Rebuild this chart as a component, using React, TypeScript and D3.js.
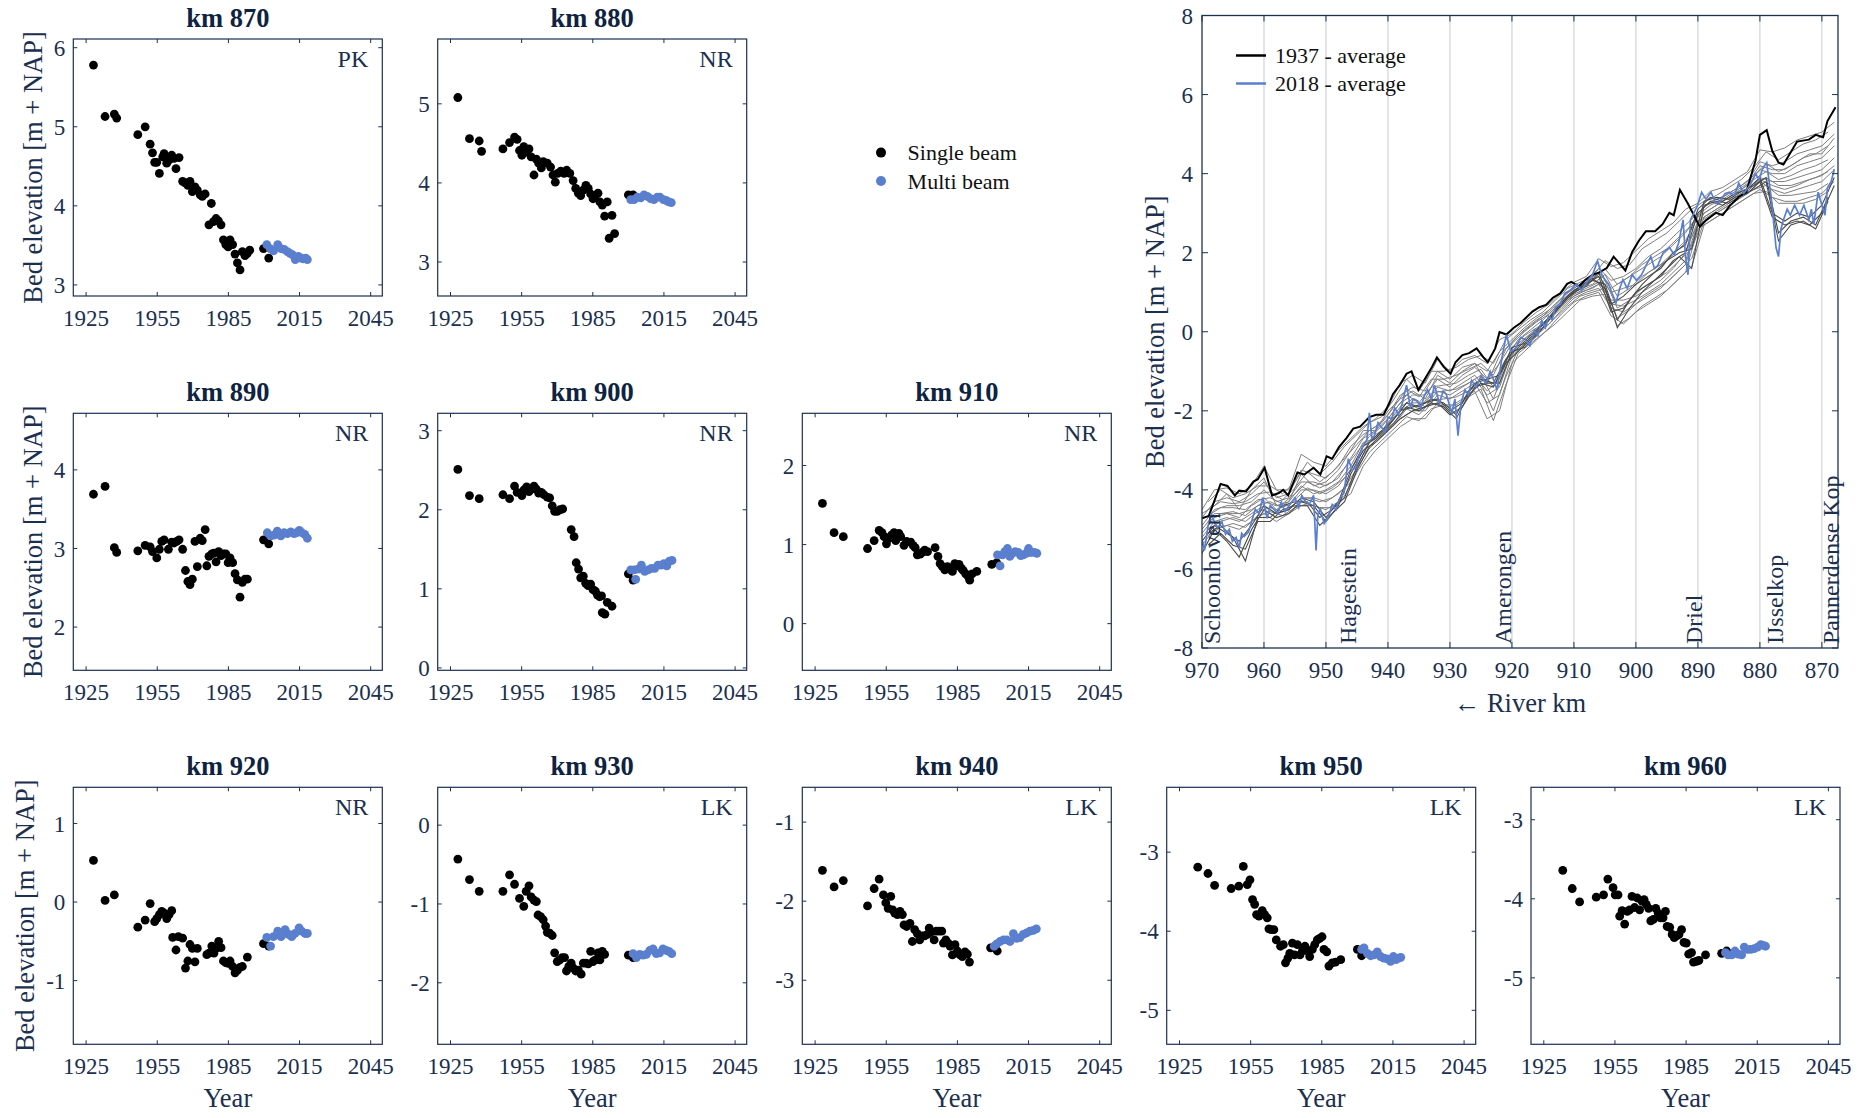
import React from "react";
import * as d3 from "d3";

const FONT = "'Liberation Serif', 'Times New Roman', Times, serif";
const AXIS = "#1c3050";
const TEXT = "#1b2f4f";
const TITLE = "#0e2341";
const BLUE = "#5b7fcf";

type Pt = [number, number];

// ---------- Bed elevation per survey year at selected river km ----------
const km870Single: Pt[] = [
  [1928.1, 5.78], [1933.0, 5.13], [1936.9, 5.16], [1937.9, 5.11], [1946.8, 4.9], [1949.9, 5.0],
  [1952.0, 4.78], [1953.0, 4.67], [1953.9, 4.55], [1954.8, 4.55], [1955.9, 4.41], [1957.3, 4.62],
  [1957.9, 4.66], [1959.0, 4.54], [1960.0, 4.58], [1961.1, 4.64], [1962.1, 4.6], [1962.9, 4.47],
  [1964.2, 4.61], [1965.7, 4.31], [1966.7, 4.29], [1967.9, 4.26], [1968.8, 4.31], [1969.8, 4.18],
  [1970.9, 4.24], [1971.9, 4.2], [1973.1, 4.14], [1974.0, 4.12], [1975.2, 4.15], [1977.8, 4.03],
  [1976.8, 3.76], [1978.7, 3.8], [1979.8, 3.84], [1980.8, 3.81], [1981.9, 3.76], [1982.9, 3.57],
  [1983.9, 3.51], [1984.9, 3.48], [1985.7, 3.57], [1986.8, 3.51], [1987.8, 3.39], [1988.8, 3.28],
  [1989.9, 3.19], [1990.9, 3.42], [1992.0, 3.37], [1993.0, 3.4], [1994.0, 3.44], [1999.8, 3.46],
  [2002.0, 3.34],
];
const km870Multi: Pt[] = [
  [2001.2, 3.51], [2002.6, 3.46], [2004.0, 3.43], [2005.8, 3.51], [2007.2, 3.46], [2008.5, 3.45],
  [2009.9, 3.42], [2011.0, 3.4], [2012.1, 3.38], [2013.2, 3.32], [2014.5, 3.36], [2015.6, 3.34],
  [2016.6, 3.33], [2017.6, 3.34], [2018.3, 3.32],
];

const km880Single: Pt[] = [
  [1928.1, 5.08], [1933.0, 4.56], [1937.1, 4.53], [1938.1, 4.4], [1947.1, 4.43], [1949.9, 4.51],
  [1952.0, 4.58], [1953.1, 4.55], [1954.1, 4.41], [1955.1, 4.35], [1955.9, 4.46], [1957.1, 4.39],
  [1958.1, 4.43], [1959.0, 4.33], [1960.2, 4.1], [1961.2, 4.3], [1962.2, 4.25], [1963.3, 4.19],
  [1964.1, 4.27], [1965.8, 4.25], [1967.2, 4.2], [1968.2, 4.1], [1969.2, 4.01], [1970.2, 4.12],
  [1971.5, 4.15], [1972.9, 4.12], [1974.0, 4.16], [1975.3, 4.12], [1976.7, 4.03], [1977.8, 3.93],
  [1978.9, 3.87], [1979.9, 3.84], [1981.0, 3.91], [1982.1, 3.97], [1983.1, 3.93], [1984.1, 3.86],
  [1985.1, 3.8], [1986.1, 3.84], [1987.2, 3.87], [1988.0, 3.76], [1989.0, 3.72], [1990.0, 3.58],
  [1991.1, 3.76], [1991.9, 3.3], [1993.1, 3.59], [1994.2, 3.36], [2000.0, 3.85], [2002.0, 3.85],
];
const km880Multi: Pt[] = [
  [2001.0, 3.79], [2002.4, 3.79], [2003.8, 3.82], [2005.2, 3.81], [2006.6, 3.85], [2008.0, 3.83],
  [2009.4, 3.8], [2010.8, 3.79], [2012.2, 3.82], [2013.3, 3.82], [2014.8, 3.79], [2015.9, 3.78],
  [2017.0, 3.76], [2018.1, 3.75],
];

const km890Single: Pt[] = [
  [1928.1, 3.69], [1933.0, 3.79], [1936.9, 3.01], [1937.9, 2.95], [1946.8, 2.97], [1949.9, 3.04],
  [1952.0, 3.02], [1953.0, 2.96], [1954.8, 2.88], [1955.9, 2.99], [1956.9, 3.09], [1957.9, 3.11],
  [1959.7, 2.99], [1961.1, 3.08], [1962.1, 3.07], [1963.2, 3.09], [1964.2, 3.11], [1965.7, 2.99],
  [1966.9, 2.72], [1967.9, 2.58], [1968.8, 2.54], [1969.8, 2.61], [1970.9, 3.09], [1971.9, 2.77],
  [1973.1, 3.13], [1974.0, 3.1], [1975.2, 3.24], [1975.9, 2.78], [1976.8, 2.9], [1978.0, 2.93],
  [1978.9, 2.94], [1979.8, 2.83], [1980.9, 2.96], [1981.9, 2.91], [1982.9, 2.93], [1983.9, 2.93],
  [1984.9, 2.82], [1985.7, 2.88], [1986.8, 2.82], [1987.8, 2.68], [1988.8, 2.6], [1989.9, 2.38],
  [1990.9, 2.57], [1992.0, 2.61], [1993.0, 2.61], [1999.8, 3.11], [2002.0, 3.06],
];
const km890Multi: Pt[] = [
  [2001.4, 3.2], [2002.8, 3.16], [2004.2, 3.17], [2005.6, 3.22], [2007.1, 3.16], [2008.5, 3.2],
  [2009.9, 3.19], [2011.3, 3.21], [2012.7, 3.19], [2013.8, 3.2], [2014.9, 3.23], [2016.0, 3.2],
  [2017.2, 3.18], [2018.3, 3.13],
];

const km900Single: Pt[] = [
  [1928.1, 2.51], [1933.0, 2.18], [1937.1, 2.14], [1947.1, 2.19], [1949.9, 2.14], [1952.0, 2.3],
  [1953.1, 2.22], [1955.1, 2.18], [1955.9, 2.25], [1957.1, 2.29], [1958.1, 2.23], [1959.0, 2.26],
  [1960.2, 2.3], [1961.2, 2.26], [1962.2, 2.21], [1963.3, 2.22], [1964.4, 2.19], [1965.8, 2.16],
  [1966.8, 2.15], [1967.9, 2.05], [1968.9, 1.98], [1970.0, 1.98], [1971.1, 2.0], [1972.3, 2.01],
  [1975.9, 1.75], [1977.1, 1.66], [1978.0, 1.33], [1979.0, 1.25], [1979.9, 1.14], [1981.0, 1.16],
  [1982.0, 1.07], [1983.0, 1.04], [1984.1, 1.06], [1985.1, 0.99], [1986.1, 0.97], [1987.0, 0.92],
  [1987.9, 0.9], [1988.7, 0.91], [1989.0, 0.7], [1990.1, 0.68], [1991.1, 0.83], [1993.1, 0.78],
  [2000.0, 1.19], [2002.0, 1.11],
];
const km900Multi: Pt[] = [
  [2001.0, 1.24], [2002.4, 1.24], [2003.1, 1.12], [2004.1, 1.25], [2005.5, 1.3], [2006.9, 1.22],
  [2008.3, 1.24], [2009.7, 1.26], [2011.1, 1.26], [2012.5, 1.3], [2013.9, 1.3], [2015.0, 1.32],
  [2016.2, 1.29], [2017.3, 1.35], [2018.4, 1.36],
];

const km910Single: Pt[] = [
  [1928.1, 1.52], [1933.0, 1.15], [1936.9, 1.1], [1947.1, 0.95], [1949.9, 1.05], [1952.0, 1.18],
  [1953.2, 1.15], [1954.1, 1.1], [1955.1, 1.01], [1956.2, 1.08], [1957.2, 1.12], [1958.3, 1.15],
  [1959.0, 1.05], [1960.4, 1.14], [1961.1, 1.1], [1962.5, 0.99], [1963.6, 1.04], [1965.3, 1.03],
  [1966.3, 0.99], [1967.2, 0.96], [1968.1, 0.87], [1969.3, 0.88], [1970.2, 0.9], [1971.2, 0.93],
  [1972.4, 0.91], [1975.6, 0.96], [1976.8, 0.85], [1977.7, 0.76], [1978.7, 0.72], [1979.7, 0.68],
  [1980.8, 0.72], [1981.8, 0.69], [1982.9, 0.66], [1983.9, 0.76], [1984.8, 0.73], [1985.7, 0.75],
  [1986.7, 0.7], [1987.5, 0.67], [1988.5, 0.63], [1989.5, 0.6], [1990.2, 0.55], [1991.2, 0.63],
  [1993.2, 0.66], [1999.5, 0.75], [2001.6, 0.77],
];
const km910Multi: Pt[] = [
  [2001.9, 0.87], [2003.0, 0.73], [2004.0, 0.87], [2005.0, 0.91], [2006.1, 0.95], [2007.1, 0.85],
  [2008.2, 0.89], [2009.4, 0.91], [2010.6, 0.9], [2011.7, 0.86], [2012.8, 0.87], [2014.0, 0.89],
  [2015.0, 0.95], [2016.0, 0.9], [2017.4, 0.9], [2018.5, 0.89],
];

const km920Single: Pt[] = [
  [1928.1, 0.53], [1933.0, 0.02], [1936.9, 0.09], [1946.8, -0.32], [1949.9, -0.23], [1952.0, -0.02],
  [1953.9, -0.25], [1954.8, -0.21], [1955.9, -0.16], [1956.9, -0.12], [1957.9, -0.14], [1959.0, -0.21],
  [1960.0, -0.16], [1961.1, -0.11], [1961.5, -0.45], [1962.9, -0.61], [1963.9, -0.44], [1965.7, -0.46],
  [1966.9, -0.84], [1967.9, -0.75], [1968.8, -0.54], [1969.8, -0.59], [1970.9, -0.76], [1971.9, -0.59],
  [1975.9, -0.67], [1976.8, -0.65], [1978.0, -0.56], [1978.9, -0.65], [1979.8, -0.59], [1980.9, -0.5],
  [1981.9, -0.58], [1982.9, -0.75], [1983.9, -0.77], [1984.9, -0.78], [1985.7, -0.75], [1986.8, -0.82],
  [1987.8, -0.9], [1988.8, -0.87], [1989.9, -0.83], [1990.9, -0.82], [1993.0, -0.7], [1999.8, -0.53],
  [2002.0, -0.56],
];
const km920Multi: Pt[] = [
  [2001.2, -0.45], [2002.8, -0.56], [2004.0, -0.44], [2005.8, -0.37], [2007.2, -0.44], [2008.9, -0.35],
  [2010.3, -0.41], [2011.7, -0.44], [2013.1, -0.4], [2014.8, -0.33], [2015.9, -0.37], [2017.3, -0.4],
  [2018.3, -0.4],
];

const km930Single: Pt[] = [
  [1928.1, -0.43], [1933.0, -0.69], [1937.1, -0.84], [1947.1, -0.84], [1949.9, -0.63], [1952.0, -0.75],
  [1954.1, -0.93], [1955.9, -1.03], [1956.9, -0.84], [1958.1, -0.77], [1959.0, -0.91], [1960.2, -0.95],
  [1961.2, -0.97], [1961.9, -1.14], [1963.0, -1.16], [1964.1, -1.2], [1965.1, -1.28], [1965.8, -1.36],
  [1966.8, -1.37], [1967.9, -1.4], [1968.9, -1.62], [1970.0, -1.73], [1971.1, -1.71], [1972.1, -1.68],
  [1973.1, -1.68], [1973.9, -1.85], [1974.9, -1.79], [1975.9, -1.75], [1976.7, -1.81], [1977.8, -1.85],
  [1978.9, -1.84], [1980.1, -1.89], [1981.0, -1.75], [1982.1, -1.75], [1983.1, -1.76], [1984.1, -1.6],
  [1985.1, -1.73], [1986.1, -1.71], [1987.2, -1.62], [1988.0, -1.71], [1989.0, -1.6], [1990.0, -1.64],
  [2000.0, -1.65], [2002.0, -1.68],
];
const km930Multi: Pt[] = [
  [2002.0, -1.63], [2003.4, -1.68], [2004.8, -1.64], [2006.2, -1.65], [2007.6, -1.64], [2009.0, -1.59],
  [2010.4, -1.57], [2011.8, -1.63], [2013.2, -1.62], [2014.6, -1.57], [2016.0, -1.59], [2017.1, -1.6],
  [2018.3, -1.63],
];

const km940Single: Pt[] = [
  [1928.1, -1.61], [1933.0, -1.82], [1936.9, -1.74], [1947.1, -2.06], [1949.9, -1.84], [1952.0, -1.72],
  [1953.8, -1.92], [1954.8, -2.02], [1955.8, -2.09], [1956.9, -1.94], [1957.7, -2.11], [1958.6, -2.15],
  [1959.7, -2.17], [1960.8, -2.13], [1961.8, -2.17], [1962.5, -2.3], [1963.6, -2.32], [1965.0, -2.28],
  [1966.0, -2.51], [1967.0, -2.36], [1968.1, -2.41], [1969.1, -2.49], [1970.2, -2.44], [1971.2, -2.44],
  [1972.4, -2.42], [1973.1, -2.34], [1974.0, -2.39], [1975.2, -2.49], [1976.1, -2.38], [1977.3, -2.38],
  [1978.4, -2.38], [1979.1, -2.53], [1980.1, -2.49], [1981.1, -2.53], [1981.9, -2.57], [1982.9, -2.68],
  [1984.0, -2.55], [1985.0, -2.63], [1986.1, -2.68], [1987.1, -2.7], [1988.2, -2.64], [1989.2, -2.67],
  [1990.1, -2.77], [1999.0, -2.59], [2001.8, -2.63],
];
const km940Multi: Pt[] = [
  [2000.5, -2.57], [2001.6, -2.54], [2003.0, -2.51], [2004.4, -2.49], [2005.8, -2.49], [2007.2, -2.51],
  [2008.6, -2.41], [2010.0, -2.47], [2011.4, -2.46], [2012.8, -2.42], [2014.2, -2.4], [2015.6, -2.38],
  [2017.0, -2.37], [2018.3, -2.35],
];

const km950Single: Pt[] = [
  [1932.7, -3.19], [1937.0, -3.27], [1939.8, -3.42], [1946.8, -3.46], [1950.0, -3.43], [1951.9, -3.18],
  [1953.6, -3.41], [1954.7, -3.35], [1955.8, -3.6], [1956.7, -3.66], [1957.5, -3.79], [1958.5, -3.81],
  [1959.9, -3.74], [1960.9, -3.79], [1962.0, -3.83], [1962.7, -3.97], [1963.7, -3.98], [1964.8, -3.98],
  [1965.8, -4.11], [1967.6, -4.19], [1968.8, -4.17], [1969.7, -4.4], [1970.7, -4.34], [1971.5, -4.28],
  [1972.6, -4.15], [1973.5, -4.3], [1974.7, -4.17], [1975.8, -4.3], [1976.8, -4.25], [1977.9, -4.19],
  [1978.9, -4.25], [1979.9, -4.32], [1981.0, -4.23], [1982.0, -4.17], [1983.1, -4.11], [1984.1, -4.09],
  [1985.1, -4.07], [1985.9, -4.23], [1987.1, -4.26], [1988.0, -4.44], [1989.4, -4.4], [1990.8, -4.39],
  [1993.0, -4.36], [2000.0, -4.23], [2001.8, -4.31],
];
const km950Multi: Pt[] = [
  [2001.8, -4.23], [2002.8, -4.21], [2004.2, -4.28], [2005.6, -4.31], [2007.0, -4.3], [2008.4, -4.26],
  [2009.8, -4.32], [2011.2, -4.34], [2012.6, -4.35], [2014.0, -4.38], [2015.2, -4.32], [2016.3, -4.36],
  [2017.4, -4.34], [2018.3, -4.33],
];

const km960Single: Pt[] = [
  [1933.0, -3.64], [1937.0, -3.87], [1940.1, -4.04], [1947.1, -3.98], [1950.2, -3.95], [1952.0, -3.75],
  [1954.2, -3.86], [1955.1, -3.95], [1956.3, -3.95], [1957.0, -4.22], [1958.0, -4.15], [1959.1, -4.32],
  [1960.2, -4.16], [1961.2, -4.14], [1962.2, -3.97], [1963.3, -4.11], [1964.4, -3.99], [1965.4, -4.14],
  [1966.4, -4.03], [1967.3, -4.01], [1968.2, -4.07], [1969.2, -4.12], [1970.1, -4.28], [1971.2, -4.26],
  [1972.2, -4.12], [1973.2, -4.18], [1974.2, -4.24], [1975.3, -4.24], [1976.3, -4.16], [1977.0, -4.35],
  [1978.1, -4.36], [1979.1, -4.45], [1980.0, -4.49], [1981.0, -4.47], [1982.0, -4.45], [1983.1, -4.39],
  [1984.1, -4.55], [1985.1, -4.56], [1986.1, -4.7], [1987.3, -4.68], [1988.1, -4.8], [1989.4, -4.79],
  [1990.4, -4.78], [1993.2, -4.71], [2000.0, -4.69], [2002.1, -4.66],
];
const km960Multi: Pt[] = [
  [2001.6, -4.68], [2002.7, -4.71], [2004.2, -4.71], [2005.6, -4.66], [2007.0, -4.7], [2008.4, -4.71],
  [2009.5, -4.61], [2010.9, -4.64], [2012.3, -4.64], [2013.7, -4.63], [2015.1, -4.61], [2016.5, -4.58],
  [2017.5, -4.59], [2018.5, -4.6],
];

// ---------- Longitudinal bed profiles ----------
const profile1937: Pt[] = [
  [970.0, -4.72], [968.9, -4.66], [967.0, -3.85], [965.9, -3.9], [964.7, -4.14], [964.0, -4.02],
  [962.9, -4.04], [961.7, -3.79], [961.0, -3.73], [959.9, -3.44], [958.7, -4.14], [957.6, -4.08],
  [956.9, -4.0], [956.1, -4.14], [954.6, -3.56], [953.5, -3.61], [952.0, -3.44], [950.9, -3.61],
  [949.9, -3.15], [949.0, -3.21], [947.9, -2.92], [946.7, -2.69], [945.6, -2.45], [944.5, -2.4],
  [943.0, -2.16], [941.9, -2.1], [940.7, -2.1], [939.8, -1.81], [939.2, -1.58], [938.1, -1.35],
  [937.0, -1.06], [936.2, -1.0], [935.1, -1.47], [934.0, -1.18], [932.9, -0.89], [932.1, -0.65],
  [931.0, -0.89], [929.9, -1.06], [929.1, -0.77], [928.0, -0.59], [926.9, -0.54], [925.7, -0.42],
  [924.6, -0.65], [923.9, -0.77], [922.7, -0.42], [922.0, -0.01], [920.9, -0.07], [919.7, 0.1],
  [918.6, 0.22], [917.9, 0.33], [916.7, 0.51], [915.6, 0.62], [914.5, 0.68], [913.4, 0.86],
  [912.2, 0.97], [911.1, 1.21], [910.4, 1.26], [909.2, 1.15], [908.1, 1.32], [907.0, 1.44],
  [905.9, 1.5], [904.7, 1.61], [903.6, 1.9], [901.7, 1.55], [900.6, 2.02], [899.5, 2.31],
  [898.4, 2.54], [896.9, 2.54], [895.7, 2.72], [894.6, 3.01], [893.9, 2.95], [892.9, 3.59],
  [891.6, 3.24], [889.7, 2.66], [888.6, 2.83], [887.1, 3.01], [886.0, 2.95], [884.9, 3.18],
  [883.4, 3.41], [882.2, 3.53], [880.7, 4.34], [880.0, 4.98], [878.9, 5.1], [878.0, 4.57],
  [877.0, 4.28], [876.2, 4.23], [875.1, 4.52], [874.0, 4.81], [872.1, 4.86], [871.0, 4.98],
  [869.8, 4.92], [869.1, 5.33], [867.8, 5.68],
];

const profile2018: Pt[] = [
  [969.9, -5.3], [969.6, -5.53], [969.0, -4.9], [968.5, -4.6], [967.9, -4.85], [967.4, -4.95],
  [966.8, -4.8], [966.2, -5.12], [965.6, -5.0], [965.1, -5.3], [964.5, -5.2], [964.0, -5.47],
  [963.6, -5.1], [963.2, -5.18], [962.5, -5.07], [961.9, -4.75], [961.4, -4.49], [960.8, -4.6],
  [960.2, -4.2], [959.5, -4.72], [959.0, -4.4], [958.4, -4.49], [957.8, -4.6], [957.2, -4.31],
  [956.6, -4.55], [956.1, -4.43], [955.5, -4.3], [955.0, -4.2], [954.4, -4.45], [953.9, -4.14],
  [953.3, -4.3], [952.7, -4.37], [952.0, -4.14], [951.6, -5.53], [951.3, -4.6], [950.9, -4.49],
  [950.3, -4.85], [949.7, -4.72], [949.0, -4.37], [948.4, -4.5], [947.9, -4.25], [947.1, -4.08],
  [946.7, -3.6], [946.4, -3.21], [945.8, -3.5], [945.2, -3.44], [944.6, -3.1], [944.1, -2.92],
  [943.4, -2.74], [943.0, -2.05], [942.6, -2.7], [942.2, -2.63], [941.6, -2.3], [941.1, -2.4],
  [940.5, -2.55], [940.0, -2.16], [939.4, -2.2], [938.9, -1.93], [938.3, -2.1], [937.7, -1.81],
  [937.0, -1.35], [936.4, -1.9], [935.9, -1.7], [935.2, -1.75], [934.7, -1.93], [934.1, -1.6],
  [933.6, -1.47], [933.0, -1.7], [932.5, -1.35], [931.7, -1.81], [931.1, -1.5], [930.6, -1.58],
  [929.7, -2.05], [929.2, -1.7], [928.7, -2.63], [928.2, -1.8], [927.6, -1.47], [927.0, -1.6],
  [926.5, -1.23], [925.8, -1.4], [925.0, -1.12], [924.2, -1.3], [923.5, -1.0], [923.0, -1.2],
  [922.4, -1.47], [921.6, -0.65], [920.9, -0.07], [920.2, -0.5], [919.4, -0.42], [918.6, -0.15],
  [917.9, -0.19], [917.1, -0.35], [916.4, 0.04], [915.8, -0.1], [915.2, 0.28], [914.6, 0.1],
  [914.1, 0.39], [913.5, 0.3], [913.0, 0.62], [912.2, 0.7], [911.5, 0.97], [910.6, 1.05],
  [909.6, 1.21], [908.8, 1.05], [908.1, 1.21], [907.5, 1.35], [907.0, 1.44], [906.2, 1.79],
  [905.5, 1.44], [904.9, 1.3], [904.4, 1.21], [903.8, 0.95], [903.2, 0.74], [902.6, 1.1],
  [902.1, 1.32], [901.4, 1.1], [900.6, 1.44], [899.9, 1.3], [899.1, 1.44], [898.3, 1.7],
  [897.6, 1.9], [897.0, 1.6], [896.5, 1.67], [895.6, 2.0], [894.6, 2.13], [893.8, 1.95],
  [893.1, 2.25], [892.4, 2.83], [892.0, 1.9], [891.6, 1.44], [891.2, 2.83], [890.1, 3.18],
  [889.4, 3.53], [888.7, 3.35], [887.9, 3.53], [887.1, 3.25], [886.4, 3.3], [885.6, 3.5],
  [884.9, 3.53], [884.1, 3.45], [883.4, 3.76], [882.6, 3.5], [881.9, 3.64], [881.3, 3.8],
  [880.7, 3.99], [880.1, 3.85], [879.6, 4.11], [878.9, 4.28], [878.1, 3.3], [877.4, 2.13],
  [877.0, 1.9], [876.6, 2.6], [876.2, 2.83], [875.6, 3.1], [875.1, 2.95], [874.4, 3.2],
  [873.6, 2.95], [872.9, 3.2], [872.1, 2.83], [871.7, 3.1], [871.3, 2.72], [870.6, 3.53],
  [870.0, 3.2], [869.5, 2.95], [869.1, 3.64], [868.5, 3.8], [868.0, 4.11],
];

// Intermediate survey profiles, sampled every 2 km on two staggered station grids
const evenKm = d3.range(970, 867, -2); // 970 ... 868
const oddKm = d3.range(969, 868, -2); // 969 ... 869

const surveyEven: number[][] = [
  [-4.5, -4.0, -3.95, -4.1, -3.9, -3.4, -4.0, -4.0, -3.1, -3.3,
    -3.4, -3.0, -2.7, -2.4, -2.2, -1.9, -1.3, -1.1, -1.3, -0.7,
    -1.0, -0.7, -0.6, -0.8, -0.2, -0.05, 0.25, 0.5, 0.7, 1.0,
    1.25, 1.4, 1.85, 1.65, 1.75, 2.05, 2.35, 2.55, 2.75, 3.1,
    3.25, 3.55, 3.65, 3.85, 4.05, 4.6, 4.55, 4.65, 4.85, 4.95,
    5.05, 5.3],
  [-4.7, -4.3, -4.2, -4.3, -4.1, -3.8, -4.2, -4.1, -3.5, -3.6,
    -3.7, -3.4, -2.9, -2.6, -2.4, -2.1, -1.6, -1.4, -1.5, -1.0,
    -1.2, -0.9, -0.8, -1.0, -0.5, -0.2, 0.1, 0.35, 0.55, 0.85,
    1.1, 1.3, 1.6, 1.3, 1.4, 1.6, 1.9, 2.1, 2.4, 2.7,
    3.0, 3.3, 3.4, 3.6, 3.8, 4.3, 4.2, 4.3, 4.5, 4.6,
    4.7, 5.0],
  [-4.9, -4.5, -4.4, -4.4, -4.3, -4.0, -4.3, -4.2, -3.8, -3.8,
    -3.9, -3.7, -3.2, -2.7, -2.5, -2.2, -1.8, -1.6, -1.6, -1.2,
    -1.4, -1.1, -0.9, -1.2, -0.8, -0.3, 0.0, 0.25, 0.45, 0.75,
    1.0, 1.2, 1.4, 1.0, 1.1, 1.2, 1.5, 1.7, 2.0, 2.3,
    2.9, 3.1, 3.3, 3.5, 3.7, 4.1, 4.0, 4.0, 4.2, 4.3,
    4.4, 4.7],
  [-5.0, -4.6, -4.6, -4.6, -4.5, -4.3, -4.4, -4.4, -4.0, -4.0,
    -4.1, -3.9, -3.5, -2.9, -2.6, -2.4, -2.0, -1.8, -1.8, -1.4,
    -1.5, -1.3, -1.1, -1.5, -1.2, -0.4, -0.1, 0.1, 0.35, 0.65,
    0.95, 1.1, 1.25, 0.8, 0.8, 0.9, 1.1, 1.3, 1.6, 2.0,
    2.8, 3.0, 3.2, 3.4, 3.6, 3.9, 3.8, 3.8, 3.9, 4.0,
    4.1, 4.4],
  [-5.2, -4.8, -4.7, -4.8, -4.6, -4.4, -4.6, -4.5, -4.2, -4.2,
    -4.3, -4.1, -3.8, -3.1, -2.8, -2.5, -2.2, -2.0, -2.0, -1.6,
    -1.7, -1.5, -1.3, -1.8, -1.6, -0.6, -0.3, 0.0, 0.2, 0.55,
    0.85, 1.0, 1.1, 0.6, 0.5, 0.7, 0.9, 1.1, 1.4, 1.7,
    2.7, 2.9, 3.1, 3.3, 3.5, 3.8, 3.6, 3.5, 3.6, 3.7,
    3.8, 4.1],
  [-5.4, -5.0, -4.9, -5.0, -4.8, -4.6, -4.8, -4.6, -4.4, -4.4,
    -4.5, -4.3, -4.1, -3.4, -3.0, -2.7, -2.4, -2.2, -2.2, -1.8,
    -1.9, -1.7, -1.5, -2.2, -2.0, -0.8, -0.5, -0.2, 0.1, 0.45,
    0.75, 0.9, 1.0, 0.4, 0.2, 0.5, 0.7, 0.9, 1.2, 1.5,
    2.6, 2.8, 3.0, 3.2, 3.4, 3.6, 3.4, 3.3, 3.3, 3.4,
    3.5, 3.8],
  [-4.6, -4.4, -4.1, -4.5, -4.0, -3.7, -4.4, -4.3, -3.6, -3.9,
    -3.8, -3.5, -3.0, -2.5, -2.5, -2.0, -1.7, -1.5, -1.7, -1.1,
    -1.3, -1.0, -0.8, -1.3, -0.6, -0.25, 0.05, 0.3, 0.5, 0.8,
    1.05, 1.25, 1.5, 1.1, 1.3, 1.5, 1.7, 1.9, 2.2, 2.5,
    2.95, 3.2, 3.35, 3.55, 3.75, 4.2, 4.1, 4.1, 4.3, 4.5,
    4.5, 4.9],
  [-5.1, -4.7, -4.6, -4.7, -4.4, -4.2, -4.5, -4.3, -3.9, -4.1,
    -4.0, -3.8, -3.4, -2.8, -2.7, -2.3, -1.9, -1.7, -1.9, -1.5,
    -1.6, -1.4, -1.2, -1.6, -1.4, -0.5, -0.2, 0.05, 0.3, 0.6,
    0.9, 1.05, 1.2, 0.7, 0.65, 0.8, 1.0, 1.2, 1.5, 1.8,
    2.75, 2.95, 3.15, 3.35, 3.55, 3.85, 3.7, 3.6, 3.7, 3.85,
    3.95, 4.2],
];

const surveyOdd: number[][] = [
  [-4.3, -4.0, -4.2, -4.1, -3.9, -3.9, -4.1, -3.8, -3.3, -3.6,
    -3.3, -2.9, -2.6, -2.3, -2.15, -1.7, -1.2, -1.5, -1.0, -1.0,
    -0.9, -0.7, -0.6, -0.8, -0.2, 0.05, 0.3, 0.5, 0.8, 1.1,
    1.25, 1.4, 1.8, 1.6, 1.7, 2.1, 2.3, 2.5, 2.8, 3.1,
    3.3, 3.45, 3.65, 3.85, 4.15, 4.55, 4.35, 4.55, 4.75, 4.85,
    5.05],
  [-4.5, -4.3, -4.35, -4.3, -4.1, -4.05, -4.25, -3.95, -3.55, -3.8,
    -3.55, -3.2, -2.85, -2.5, -2.3, -1.9, -1.45, -1.65, -1.2, -1.2,
    -1.1, -0.95, -0.8, -1.1, -0.45, -0.1, 0.15, 0.4, 0.7, 1.0,
    1.2, 1.3, 1.6, 1.2, 1.4, 1.7, 1.9, 2.1, 2.4, 2.7,
    3.15, 3.35, 3.5, 3.7, 3.95, 4.25, 4.05, 4.2, 4.4, 4.5,
    4.7],
  [-4.65, -4.45, -4.45, -4.5, -4.25, -4.2, -4.35, -4.1, -3.8, -3.95,
    -3.8, -3.45, -3.05, -2.65, -2.4, -2.0, -1.6, -1.8, -1.4, -1.35,
    -1.3, -1.1, -0.95, -1.4, -0.7, -0.2, 0.05, 0.3, 0.6, 0.9,
    1.1, 1.2, 1.45, 0.9, 1.1, 1.4, 1.6, 1.8, 2.1, 2.4,
    3.0, 3.2, 3.4, 3.6, 3.85, 4.05, 3.85, 3.95, 4.1, 4.2,
    4.35],
  [-4.8, -4.6, -4.55, -4.65, -4.4, -4.3, -4.45, -4.25, -3.95, -4.1,
    -3.95, -3.7, -3.25, -2.8, -2.5, -2.15, -1.8, -1.95, -1.55, -1.5,
    -1.45, -1.3, -1.1, -1.7, -0.9, -0.3, -0.05, 0.2, 0.5, 0.8,
    1.0, 1.1, 1.3, 0.6, 0.8, 1.1, 1.3, 1.5, 1.8, 2.1,
    2.9, 3.1, 3.3, 3.5, 3.75, 3.9, 3.7, 3.7, 3.8, 3.9,
    4.05],
  [-5.0, -4.8, -4.7, -4.8, -4.55, -4.45, -4.55, -4.35, -4.2, -4.3,
    -4.2, -3.95, -3.45, -2.95, -2.65, -2.35, -1.95, -2.1, -1.75, -1.7,
    -1.65, -1.5, -1.3, -2.0, -1.15, -0.45, -0.2, 0.05, 0.35, 0.65,
    0.9, 1.0, 1.1, 0.35, 0.55, 0.85, 1.05, 1.25, 1.55, 1.85,
    2.8, 3.0, 3.2, 3.4, 3.6, 3.7, 3.45, 3.45, 3.5, 3.55,
    3.75],
  [-5.15, -4.95, -4.85, -4.95, -4.65, -4.55, -4.65, -4.45, -4.35, -4.45,
    -4.45, -4.15, -3.55, -3.05, -2.75, -2.45, -2.15, -2.25, -1.95, -1.85,
    -1.85, -1.65, -1.45, -2.25, -1.35, -0.55, -0.3, -0.05, 0.2, 0.5,
    0.8, 0.9, 0.95, 0.15, 0.35, 0.65, 0.85, 1.05, 1.35, 1.65,
    2.7, 2.9, 3.1, 3.3, 3.5, 3.55, 3.25, 3.25, 3.25, 3.35,
    3.55],
];

// Recent multibeam-era profiles
const recentEven: number[][] = [
  [-5.6, -5.0, -5.3, -5.7, -5.0, -4.5, -4.7, -4.6, -4.3, -4.4,
    -4.8, -4.4, -3.6, -3.0, -2.8, -2.5, -2.2, -2.0, -1.9, -1.8,
    -2.1, -1.9, -1.4, -1.3, -1.3, -0.5, -0.4, -0.1, 0.3, 0.7,
    1.0, 1.15, 1.5, 0.7, 0.9, 1.2, 1.4, 1.6, 2.0, 2.2,
    3.1, 3.4, 3.3, 3.5, 3.6, 3.9, 3.0, 2.8, 3.0, 2.9,
    3.2, 3.9],
  [-5.3, -4.9, -5.1, -5.3, -4.9, -4.4, -4.6, -4.5, -4.2, -4.3,
    -4.7, -4.3, -3.5, -2.9, -2.7, -2.4, -2.0, -1.9, -1.8, -1.7,
    -2.0, -1.8, -1.3, -1.2, -1.1, -0.4, -0.3, 0.0, 0.35, 0.75,
    1.05, 1.2, 1.4, 0.5, 0.6, 1.0, 1.2, 1.4, 1.8, 2.0,
    3.0, 3.3, 3.2, 3.4, 3.5, 3.8, 2.9, 2.7, 2.8, 2.7,
    3.0, 3.7],
];
const recentOdd: number[][] = [
  [-5.4, -5.1, -5.4, -5.5, -4.8, -4.8, -4.5, -4.4, -4.4, -4.9,
    -4.6, -4.3, -3.5, -2.9, -2.6, -2.3, -1.9, -2.0, -1.8, -1.9,
    -2.2, -1.6, -1.3, -1.4, -0.8, -0.5, -0.2, 0.1, 0.5, 0.85,
    1.1, 1.3, 1.2, 0.3, 0.8, 1.2, 1.5, 1.8, 2.0, 2.1,
    3.3, 3.4, 3.35, 3.55, 3.7, 3.9, 2.5, 2.8, 2.9, 2.7,
    3.4],
  [-5.1, -4.9, -5.2, -5.8, -4.7, -4.7, -4.4, -4.3, -4.3, -4.7,
    -4.5, -4.2, -3.4, -2.8, -2.5, -2.2, -1.8, -1.9, -1.7, -1.8,
    -2.1, -1.5, -1.2, -1.3, -0.7, -0.4, -0.1, 0.2, 0.55, 0.9,
    1.15, 1.35, 1.1, 0.1, 0.6, 1.0, 1.3, 1.6, 1.9, 1.6,
    3.2, 3.3, 3.25, 3.45, 3.6, 3.8, 2.3, 2.7, 2.8, 2.6,
    3.3],
];

const placeNames = ["Schoonhoven", "Hagestein", "Amerongen", "Driel", "IJsselkop", "Pannerdense Kop"];
const placeKm = [968.5, 946.5, 921.5, 890.7, 877.6, 868.6];
const yearTicks = [1925, 1955, 1985, 2015, 2045];
const kmTicks = [970, 960, 950, 940, 930, 920, 910, 900, 890, 880, 870];
const elevTicks = [-8, -6, -4, -2, 0, 2, 4, 6, 8];

// ---------- Layout ----------
const COL_X = [73.3, 437.7, 802.3, 1166.7, 1531];
const ROW_Y = [39, 413.3, 787.3];
const PW = 309;
const PH = 257;
const YEAR_DOMAIN: [number, number] = [1919.6, 2049.9];

type Panel = {
  title: string; tag: string; col: number; row: number;
  yDomain: [number, number]; single: Pt[]; multi: Pt[];
};

const panels: Panel[] = [
  { title: "km 870", tag: "PK", col: 0, row: 0, yDomain: [2.86, 6.11], single: km870Single, multi: km870Multi },
  { title: "km 880", tag: "NR", col: 1, row: 0, yDomain: [2.57, 5.82], single: km880Single, multi: km880Multi },
  { title: "km 890", tag: "NR", col: 0, row: 1, yDomain: [1.45, 4.72], single: km890Single, multi: km890Multi },
  { title: "km 900", tag: "NR", col: 1, row: 1, yDomain: [-0.03, 3.22], single: km900Single, multi: km900Multi },
  { title: "km 910", tag: "NR", col: 2, row: 1, yDomain: [-0.59, 2.66], single: km910Single, multi: km910Multi },
  { title: "km 920", tag: "NR", col: 0, row: 2, yDomain: [-1.81, 1.46], single: km920Single, multi: km920Multi },
  { title: "km 930", tag: "LK", col: 1, row: 2, yDomain: [-2.78, 0.48], single: km930Single, multi: km930Multi },
  { title: "km 940", tag: "LK", col: 2, row: 2, yDomain: [-3.81, -0.56], single: km940Single, multi: km940Multi },
  { title: "km 950", tag: "LK", col: 3, row: 2, yDomain: [-5.43, -2.18], single: km950Single, multi: km950Multi },
  { title: "km 960", tag: "LK", col: 4, row: 2, yDomain: [-5.84, -2.59], single: km960Single, multi: km960Multi },
];

function SmallPanel({ p }: { p: Panel }) {
  const left = COL_X[p.col];
  const top = ROW_Y[p.row];
  const x = d3.scaleLinear().domain(YEAR_DOMAIN).range([left, left + PW]);
  const y = d3.scaleLinear().domain(p.yDomain).range([top + PH, top]);
  const yTicks = d3.range(Math.ceil(p.yDomain[0]), Math.floor(p.yDomain[1]) + 1);
  const tl = 4;
  const labelX = p.row === 2 ? 25 : 33;
  return (
    <g>
      <text x={left + PW / 2} y={top - 12} textAnchor="middle" fontWeight="bold" fontSize={26.5} fill={TITLE}>
        {p.title}
      </text>
      {p.single.map((d, i) => (
        <circle key={"s" + i} cx={x(d[0])} cy={y(d[1])} r={4.4} fill="#000" />
      ))}
      {p.multi.map((d, i) => (
        <circle key={"m" + i} cx={x(d[0])} cy={y(d[1])} r={4.4} fill={BLUE} />
      ))}
      <rect x={left} y={top} width={PW} height={PH} fill="none" stroke={AXIS} strokeWidth={1.2} />
      {yTicks.map((t) => (
        <g key={"y" + t}>
          <line x1={left} x2={left + tl} y1={y(t)} y2={y(t)} stroke={AXIS} strokeWidth={1} />
          <line x1={left + PW - tl} x2={left + PW} y1={y(t)} y2={y(t)} stroke={AXIS} strokeWidth={1} />
          <text x={left - 8} y={y(t)} dy="0.35em" textAnchor="end" fontSize={23} fill={TEXT}>
            {String(t)}
          </text>
        </g>
      ))}
      {yearTicks.map((t) => (
        <g key={"x" + t}>
          <line x1={x(t)} x2={x(t)} y1={top + PH} y2={top + PH - tl} stroke={AXIS} strokeWidth={1} />
          <line x1={x(t)} x2={x(t)} y1={top} y2={top + tl} stroke={AXIS} strokeWidth={1} />
          <text x={x(t)} y={top + PH + 30} textAnchor="middle" fontSize={23} fill={TEXT}>
            {String(t)}
          </text>
        </g>
      ))}
      <text x={left + PW - 14} y={top + 28} textAnchor="end" fontSize={24} fill={TEXT}>
        {p.tag}
      </text>
      {p.col === 0 && (
        <text
          transform={`translate(${labelX},${top + PH / 2}) rotate(-90)`}
          textAnchor="middle"
          dy="0.35em"
          fontSize={26.5}
          fill={TEXT}
        >
          Bed elevation [m + NAP]
        </text>
      )}
      {p.row === 2 && (
        <text x={left + PW / 2} y={top + PH + 63} textAnchor="middle" fontSize={26.5} fill={TEXT}>
          Year
        </text>
      )}
    </g>
  );
}

function ScatterLegend() {
  return (
    <g fontSize={22} fill="#111">
      <circle cx={881} cy={152.6} r={5} fill="#000" />
      <text x={907.6} y={152.6} dy="0.35em">Single beam</text>
      <circle cx={881} cy={181} r={5} fill={BLUE} />
      <text x={907.6} y={181} dy="0.35em">Multi beam</text>
    </g>
  );
}

const BX0 = 1202;
const BX1 = 1838;
const BY0 = 15.5;
const BY1 = 648;

function ProfilePanel() {
  const x = d3.scaleLinear().domain([970, 867.4]).range([BX0, BX1]);
  const y = d3.scaleLinear().domain([-8, 8]).range([BY1, BY0]);
  const linePt = d3.line<Pt>().x((d) => x(d[0])).y((d) => y(d[1]));
  const lineOn = (stations: number[]) =>
    d3
      .line<number>()
      .x((_, i) => x(stations[i]))
      .y((d) => y(d));
  const evenLine = lineOn(evenKm);
  const oddLine = lineOn(oddKm);
  const tl = 6;
  const gray = "#7e7e7e";
  const dark = "#4a4a4a";
  return (
    <g>
      <defs>
        <clipPath id="profile-clip">
          <rect x={BX0} y={BY0} width={BX1 - BX0} height={BY1 - BY0} />
        </clipPath>
      </defs>
      {kmTicks.slice(1).map((k) => (
        <line key={"g" + k} x1={x(k)} x2={x(k)} y1={BY0} y2={BY1} stroke="#cdd4de" strokeWidth={1.2} />
      ))}
      <g clipPath="url(#profile-clip)" fill="none">
        {surveyEven.map((vals, i) => (
          <path key={"se" + i} d={evenLine(vals) || ""} stroke={gray} strokeWidth={1} />
        ))}
        {surveyOdd.map((vals, i) => (
          <path key={"so" + i} d={oddLine(vals) || ""} stroke={gray} strokeWidth={1} />
        ))}
        {recentEven.map((vals, i) => (
          <path key={"re" + i} d={evenLine(vals) || ""} stroke={dark} strokeWidth={1.1} />
        ))}
        {recentOdd.map((vals, i) => (
          <path key={"ro" + i} d={oddLine(vals) || ""} stroke={dark} strokeWidth={1.1} />
        ))}
        <path d={linePt(profile1937) || ""} stroke="#000" strokeWidth={2} />
        <path d={linePt(profile2018) || ""} stroke={BLUE} strokeWidth={1.7} />
      </g>
      <rect x={BX0} y={BY0} width={BX1 - BX0} height={BY1 - BY0} fill="none" stroke={AXIS} strokeWidth={1.3} />
      {elevTicks.map((t) => (
        <g key={"ey" + t}>
          <line x1={BX0} x2={BX0 + tl} y1={y(t)} y2={y(t)} stroke={AXIS} strokeWidth={1} />
          <line x1={BX1 - tl} x2={BX1} y1={y(t)} y2={y(t)} stroke={AXIS} strokeWidth={1} />
          <text x={BX0 - 9} y={y(t)} dy="0.35em" textAnchor="end" fontSize={23} fill={TEXT}>
            {String(t)}
          </text>
        </g>
      ))}
      {kmTicks.map((k) => (
        <g key={"kx" + k}>
          <line x1={x(k)} x2={x(k)} y1={BY1} y2={BY1 - tl} stroke={AXIS} strokeWidth={1} />
          <line x1={x(k)} x2={x(k)} y1={BY0} y2={BY0 + tl} stroke={AXIS} strokeWidth={1} />
          <text x={x(k)} y={BY1 + 30} textAnchor="middle" fontSize={23} fill={TEXT}>
            {String(k)}
          </text>
        </g>
      ))}
      {placeNames.map((name, i) => (
        <text
          key={name}
          transform={`translate(${x(placeKm[i])},${BY1 - 4}) rotate(-90)`}
          dy="0.35em"
          fontSize={24}
          fill={TEXT}
        >
          {name}
        </text>
      ))}
      <text
        transform={`translate(1155,${(BY0 + BY1) / 2}) rotate(-90)`}
        textAnchor="middle"
        dy="0.35em"
        fontSize={26.5}
        fill={TEXT}
      >
        Bed elevation [m + NAP]
      </text>
      <text x={(BX0 + BX1) / 2} y={BY1 + 64} textAnchor="middle" fontSize={26.5} fill={TEXT}>
        ← River km
      </text>
      <g fontSize={22} fill="#111">
        <line x1={1236} x2={1266} y1={55.5} y2={55.5} stroke="#000" strokeWidth={2.5} />
        <text x={1275} y={55.5} dy="0.35em">1937 - average</text>
        <line x1={1236} x2={1266} y1={83.5} y2={83.5} stroke={BLUE} strokeWidth={2.5} />
        <text x={1275} y={83.5} dy="0.35em">2018 - average</text>
      </g>
    </g>
  );
}

export default function App() {
  return (
    <svg
      width={1870}
      height={1118}
      style={{ position: "absolute", left: 0, top: 0, display: "block", background: "#fff" }}
      fontFamily={FONT}
    >
      <rect width={1870} height={1118} fill="#fff" />
      {panels.map((p) => (
        <SmallPanel key={p.title} p={p} />
      ))}
      <ScatterLegend />
      <ProfilePanel />
    </svg>
  );
}
